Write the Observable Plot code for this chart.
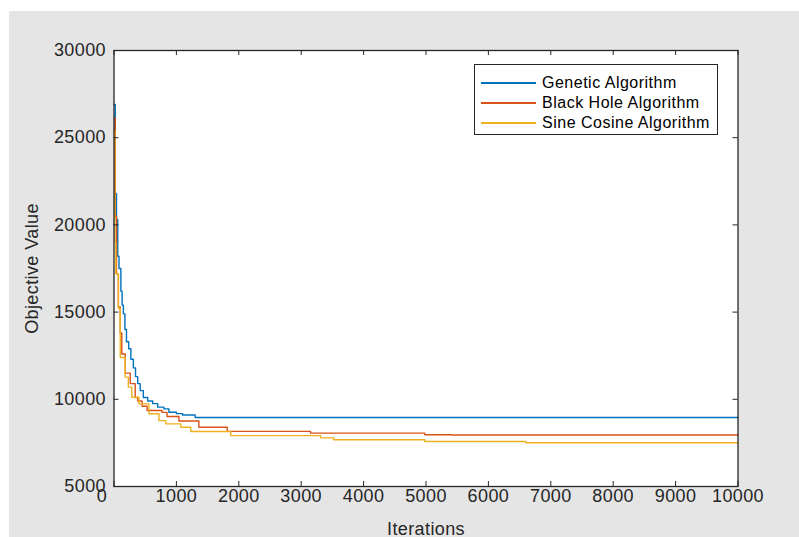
<!DOCTYPE html>
<html><head><meta charset="utf-8">
<script src="https://cdn.jsdelivr.net/npm/d3@7"></script>
<script src="https://cdn.jsdelivr.net/npm/@observablehq/plot@0.6"></script>
<style>
body{margin:0;background:#fff;}
#wrap{position:relative;width:799px;height:537px;overflow:hidden;background:#fff;}
#chart{position:absolute;left:9px;top:11px;}
#legend{position:absolute;left:474px;top:64px;width:242px;height:69px;border:1px solid #262626;background:#fff;font-family:"Liberation Sans",Arial,sans-serif;font-size:16px;letter-spacing:0.5px;color:#000;}
.row{position:absolute;left:0;height:20px;display:flex;align-items:center;white-space:nowrap;}
.sw{display:inline-block;width:55px;height:1.3px;margin-left:6px;margin-right:6px;}
</style></head>
<body><div id="wrap"><div id="chart"></div><div id="legend"></div></div>
<script>
// ---- data ----
const seriesNames = ["Genetic Algorithm", "Black Hole Algorithm", "Sine Cosine Algorithm"];
const seriesColors = ["#0072BD", "#D95319", "#EDB120"];

const gaIter  = [1, 20, 40, 60, 80, 110, 130, 150, 175, 200, 235, 270, 310, 345, 380, 420, 470, 540, 620, 700, 800, 880, 1000, 1100, 1300, 10000];
const gaValue = [26900, 21800, 20300, 18200, 17500, 16200, 15400, 14900, 14000, 13300, 12900, 12300, 11800, 11300, 10900, 10500, 10100, 9900, 9750, 9550, 9450, 9260, 9180, 9100, 8960, 8960];

const bhIter  = [1, 20, 40, 70, 100, 125, 180, 260, 340, 380, 450, 530, 770, 850, 1040, 1360, 1815, 3150, 4980, 5420, 10000];
const bhValue = [26100, 20500, 17200, 15300, 13800, 12600, 11500, 10900, 10100, 9900, 9600, 9360, 9250, 9010, 8760, 8400, 8160, 8060, 7970, 7950, 7950];

const scIter  = [1, 15, 30, 70, 100, 180, 230, 285, 400, 560, 720, 830, 1070, 1230, 1870, 3310, 3520, 4980, 6600, 10000];
const scValue = [25400, 19000, 17200, 15200, 12400, 11270, 10700, 10120, 9740, 9170, 8780, 8590, 8400, 8150, 7920, 7790, 7680, 7580, 7510, 7510];

const xTicks = [0, 1000, 2000, 3000, 4000, 5000, 6000, 7000, 8000, 9000, 10000];
const yTicks = [5000, 10000, 15000, 20000, 25000, 30000];

// ---- build rows ----
const iterArrays = [gaIter, bhIter, scIter];
const valueArrays = [gaValue, bhValue, scValue];
const rows = [];
seriesNames.forEach((name, s) => {
  iterArrays[s].forEach((it, i) => rows.push({series: name, iter: it, value: valueArrays[s][i]}));
});

const W = 790, H = 526;
const mL = 104.5, mR = 61.5, mT = 39, mB = 51;
const plotW = W - mL - mR, plotH = H - mT - mB;
const axisColor = "#262626";
const fmt = d3.format("d");

const chart = Plot.plot({
  width: W, height: H,
  marginLeft: mL, marginRight: mR, marginTop: mT, marginBottom: mB,
  style: {background: "#e5e5e5", fontFamily: "'Liberation Sans', Arial, sans-serif", fontSize: "18px", color: axisColor, overflow: "visible", letterSpacing: "0.4px"},
  x: {domain: [0, 10000]},
  y: {domain: [5000, 30000]},
  color: {domain: seriesNames, range: seriesColors},
  marks: [
    Plot.frame({fill: "white", stroke: null}),
    Plot.line(rows, {x: "iter", y: "value", z: "series", stroke: "series", curve: "step-after", strokeWidth: 1.4}),
    Plot.tickX(xTicks, {x: d => d, insetTop: plotH - 5, stroke: axisColor}),
    Plot.tickX(xTicks, {x: d => d, insetBottom: plotH - 5, stroke: axisColor}),
    Plot.tickY(yTicks, {y: d => d, insetRight: plotW - 5, stroke: axisColor}),
    Plot.tickY(yTicks, {y: d => d, insetLeft: plotW - 5, stroke: axisColor}),
    Plot.frame({stroke: axisColor, strokeWidth: 1.3}),
    Plot.axisX(xTicks.filter(d => d !== 0), {tickSize: 0, tickPadding: 3, tickFormat: fmt, label: "Iterations", labelAnchor: "center", labelArrow: "none", labelOffset: 48, fill: axisColor}),
    Plot.text([0], {x: d => d, frameAnchor: "bottom", lineAnchor: "top", dy: 3, dx: -12, text: d => fmt(d), fill: axisColor}),
    Plot.axisY(yTicks, {tickSize: 0, tickPadding: 8, tickFormat: fmt, label: "Objective Value", labelAnchor: "center", labelArrow: "none", labelOffset: 89, fill: axisColor})
  ]
});
document.getElementById("chart").appendChild(chart);

// ---- legend ----
const legend = document.getElementById("legend");
const rowTops = [8, 28, 48];
seriesNames.forEach((name, i) => {
  const r = document.createElement("div");
  r.className = "row";
  r.style.top = rowTops[i] + "px";
  const sw = document.createElement("span");
  sw.className = "sw";
  sw.style.background = seriesColors[i];
  const t = document.createElement("span");
  t.textContent = name;
  r.appendChild(sw); r.appendChild(t);
  legend.appendChild(r);
});
</script>
</body></html>
